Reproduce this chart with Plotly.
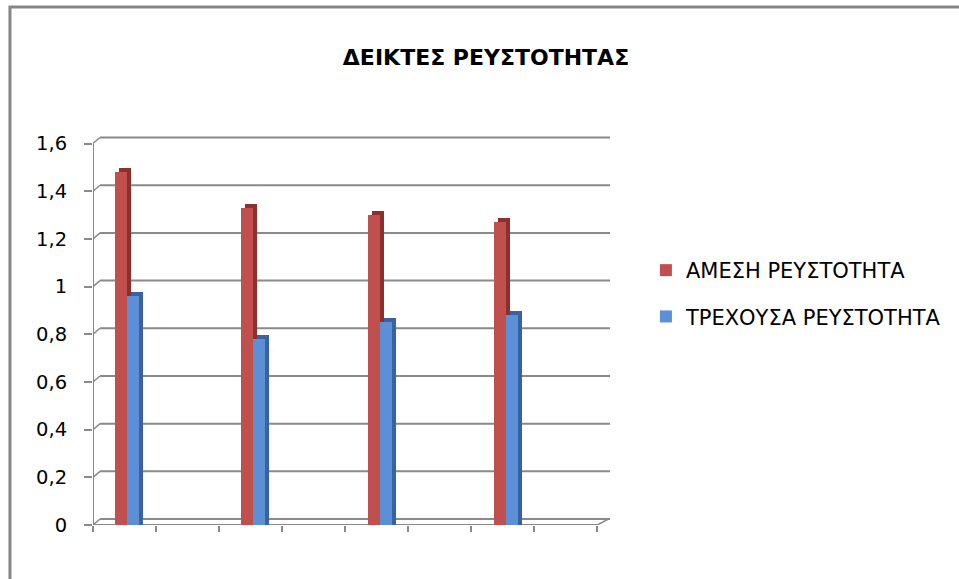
import plotly.graph_objects as go

# ---- data ----
categories = ["1", "2", "3", "4", "5", "6", "7", "8"]
amesi = [1.48, None, 1.33, None, 1.30, None, 1.27, None]
trexousa = [0.96, None, 0.78, None, 0.85, None, 0.88, None]
series_names = ["ΑΜΕΣΗ ΡΕΥΣΤΟΤΗΤΑ", "ΤΡΕΧΟΥΣΑ ΡΕΥΣΤΟΤΗΤΑ"]
y_ticks = [0, 0.2, 0.4, 0.6, 0.8, 1.0, 1.2, 1.4, 1.6]
y_ticktext = ["0", "0,2", "0,4", "0,6", "0,8", "1", "1,2", "1,4", "1,6"]
title_text = "ΔΕΙΚΤΕΣ ΡΕΥΣΤΟΤΗΤΑΣ"

x = [i + 1 for i in range(len(categories))]

# ---- geometry / style ----
W, H = 959, 579
L, T, B = 93, 134, 54
px_per_x = 63.4
x_range = [0.5, 8.7]
plot_w = (x_range[1] - x_range[0]) * px_per_x
R = W - L - plot_w
y_range = [0, 1.64]
plot_h = H - T - B
px_per_y = plot_h / (y_range[1] - y_range[0])

bar_w = 0.19
depth_x = 4 / px_per_x
depth_y = 4 / px_per_y

red, red_dark = "#C0504D", "#8C302E"
blue, blue_dark = "#5B8FD6", "#3A62A0"
grid_col = "#8A8A8A"
FONT = "DejaVu Sans"

fig = go.Figure()

def add_series(vals, name, front, dark, off):
    side = [v + depth_y if v is not None else None for v in vals]
    fig.add_trace(go.Bar(x=x, y=side, width=bar_w, offset=off + depth_x,
                         marker=dict(color=dark, line=dict(width=0)),
                         showlegend=False, hoverinfo="skip"))
    fig.add_trace(go.Bar(x=x, y=vals, width=bar_w, offset=off, name=name,
                         legendgroup=name,
                         marker=dict(color=front, line=dict(width=0))))

add_series(amesi, series_names[0], red, red_dark, -0.145)
add_series(trexousa, series_names[1], blue, blue_dark, 0.045)

shapes = []
dx, dy = 7, 6
x_left, x_right = 0.5, 8.5
# gridlines on back wall + diagonal connectors
for v in y_ticks:
    shapes.append(dict(type="line", xref="x", yref="y", xsizemode="pixel", ysizemode="pixel",
                       xanchor=x_left, yanchor=v, x0=dx, x1=dx + (x_right - x_left) * px_per_x + 4,
                       y0=dy, y1=dy, line=dict(color=grid_col, width=2), layer="below"))
    shapes.append(dict(type="line", xref="x", yref="y", xsizemode="pixel", ysizemode="pixel",
                       xanchor=x_left, yanchor=v, x0=0, x1=dx, y0=0, y1=dy,
                       line=dict(color=grid_col, width=1.5), layer="below"))
# front floor edge and right diagonal
shapes.append(dict(type="line", xref="x", yref="y", x0=x_left, x1=x_right, y0=0, y1=0,
                   line=dict(color=grid_col, width=2), layer="below"))
shapes.append(dict(type="line", xref="x", yref="y", xsizemode="pixel", ysizemode="pixel",
                   xanchor=x_right, yanchor=0, x0=0, x1=dx + 4, y0=0, y1=dy,
                   line=dict(color=grid_col, width=1.5), layer="below"))
# front y axis line
shapes.append(dict(type="line", xref="x", yref="y", x0=x_left, x1=x_left, y0=0, y1=y_ticks[-1],
                   line=dict(color=grid_col, width=2), layer="below"))
# outer chart border
shapes.append(dict(type="rect", xref="paper", yref="paper",
                   x0=(9.5 - L) / plot_w, x1=(W + 20 - L) / plot_w,
                   y0=(H - B - (H + 20)) / plot_h, y1=(H - B - 7) / plot_h,
                   line=dict(color="#868686", width=3), fillcolor="rgba(0,0,0,0)"))

fig.update_layout(
    width=W, height=H,
    margin=dict(l=L, r=R, t=T, b=B, pad=0),
    paper_bgcolor="white", plot_bgcolor="white",
    barmode="overlay",
    shapes=shapes,
    font=dict(family=FONT, color="#000000"),
    title=dict(text="<b>" + title_text + "</b>", x=486 / W, xanchor="center",
               y=1 - 57 / H, yanchor="middle", xref="container", yref="container",
               font=dict(size=22, family=FONT, color="#000000")),
    xaxis=dict(range=x_range, tickvals=[i + 0.5 for i in range(len(categories) + 1)],
               ticktext=[""] * (len(categories) + 1), ticks="outside", ticklen=6,
               tickwidth=2, tickcolor=grid_col, showgrid=False, zeroline=False,
               showline=False),
    yaxis=dict(range=y_range, tickvals=y_ticks, ticktext=y_ticktext, ticks="outside",
               ticklen=8, tickwidth=2, tickcolor=grid_col, showgrid=False, zeroline=False,
               showline=False, ticklabelstandoff=13,
               tickfont=dict(size=19.5, family=FONT, color="#000000")),
    legend=dict(x=(649 - L) / plot_w, y=(H - B - 250) / plot_h, xanchor="left", yanchor="top",
                font=dict(size=21, family=FONT, color="#000000"),
                traceorder="grouped", tracegroupgap=16, bgcolor="rgba(0,0,0,0)"),
    bargap=0,
)

fig.write_html("out.html", config={"displayModeBar": False},
               post_script="document.body.style.margin='0';document.body.style.overflow='hidden';")
